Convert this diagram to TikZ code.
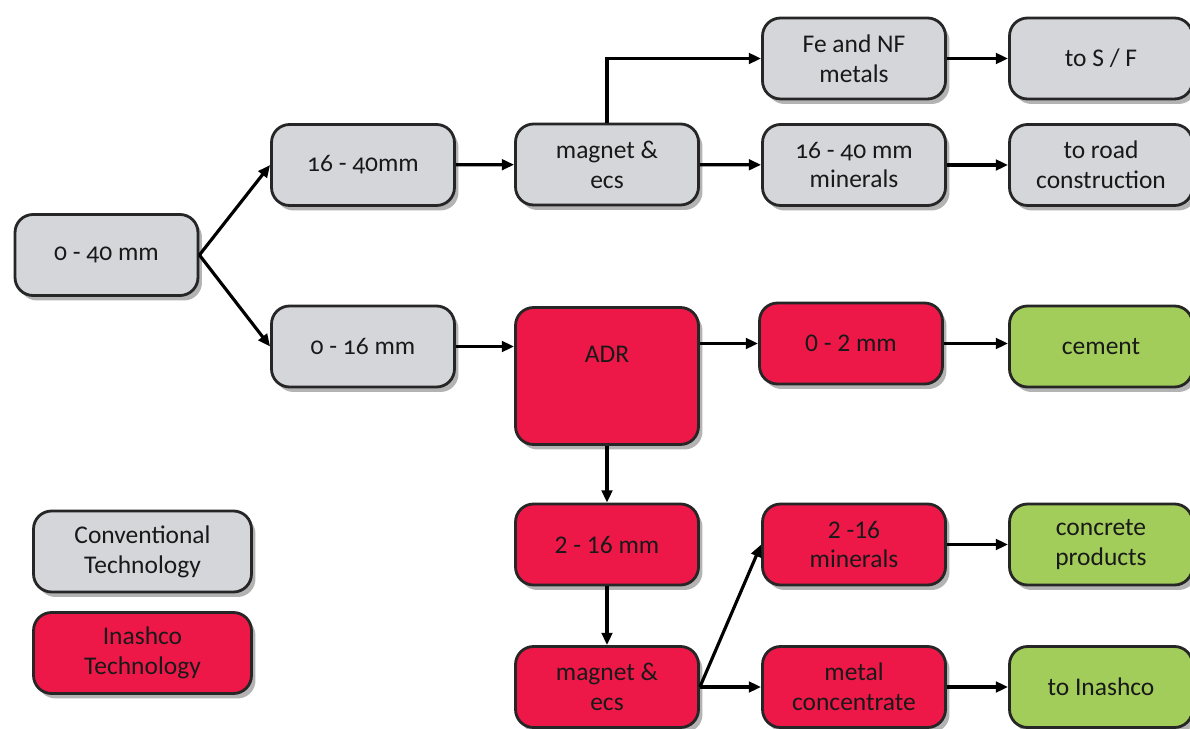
\documentclass[tikz,border=0pt]{standalone}
\usepackage{fontspec}
\setmainfont{Carlito}
\newfontfamily\oldnum{Carlito}[Numbers=OldStyle]
\usetikzlibrary{arrows.meta,shadows}
\definecolor{convgray}{HTML}{D4D6DA}
\definecolor{inashred}{HTML}{EE1848}
\definecolor{prodgreen}{HTML}{A2CD5A}
\begin{document}
\begin{tikzpicture}[x=.02cm,y=-.02cm,
    box/.style={draw=black!85, line width=1.6pt, rounded corners=.36cm,
      minimum width=3.66cm, minimum height=1.62cm, align=center, text=black!90,
      font=\fontsize{14.5}{17}\selectfont,
      drop shadow={shadow xshift=.08cm, shadow yshift=-.1cm, fill=black!50, opacity=.6}},
    conv/.style={box, fill=convgray, font=\fontsize{14.5}{17}\selectfont\oldnum},
    inash/.style={box, fill=inashred},
    prod/.style={box, fill=prodgreen},
    legend/.style={minimum width=4.36cm},
    flow/.style={line width=1.8pt, -{Triangle[length=7pt,width=6pt]}}]
  \useasboundingbox (0,0) rectangle (1190,729);
  \node[conv] (in040) at (106.5,255) {0 - 40 mm};
  \node[conv] (s1640) at (363,165) {16 - 40mm};
  \node[conv] (s016) at (363,346.5) {0 - 16 mm};
  \node[conv] (mag1) at (607,164.5) {magnet \&\\ecs};
  \node[conv] (fenf) at (854,58.5) {Fe and NF\\metals};
  \node[conv] (tosf) at (1101,58.5) {to S / F};
  \node[conv] (min16) at (854,165) {16 - 40 mm\\minerals};
  \node[conv] (road) at (1101,165) {to road\\construction};
  \node[inash, minimum height=0pt, inner ysep=.74cm, text height=.35cm, text depth=.91cm] (adr) at (607,376) {ADR};
  \node[inash] (o2) at (851,343.5) {0 - 2 mm};
  \node[prod] (cement) at (1101,346.5) {cement};
  \node[inash] (m216) at (607,544.5) {2 - 16 mm};
  \node[inash] (mag2) at (607,687) {magnet \&\\ecs};
  \node[inash] (min216) at (854,544.5) {2 -16\\minerals};
  \node[prod] (concrete) at (1101,544.5) {concrete\\products};
  \node[inash] (metal) at (854,687) {metal\\concentrate};
  \node[prod] (toinash) at (1101,687) {to Inashco};
  \node[conv, legend] (legconv) at (142.5,551.5) {Conventional\\Technology};
  \node[inash, legend] (leginash) at (142.5,653) {Inashco\\Technology};

  \draw[flow] (in040.east) -- (s1640.west);
  \draw[flow] (in040.east) -- (s016.west);
  \draw[flow] (s1640) -- (mag1);
  \draw[flow] (mag1.north) |- (fenf.west);
  \draw[flow] (mag1) -- (min16);
  \draw[flow] (fenf) -- (tosf);
  \draw[flow] (min16) -- (road);
  \draw[flow] (s016.east) -- (s016.east -| adr.west);
  \draw[flow] (adr.east |- o2) -- (o2.west);
  \draw[flow] (o2.east) -- (o2.east -| cement.west);
  \draw[flow] (adr) -- (m216);
  \draw[flow] (m216) -- (mag2);
  \draw[flow] (mag2.east) -- (min216.west);
  \draw[flow] (mag2) -- (metal);
  \draw[flow] (min216) -- (concrete);
  \draw[flow] (metal) -- (toinash);
\end{tikzpicture}
\end{document}
